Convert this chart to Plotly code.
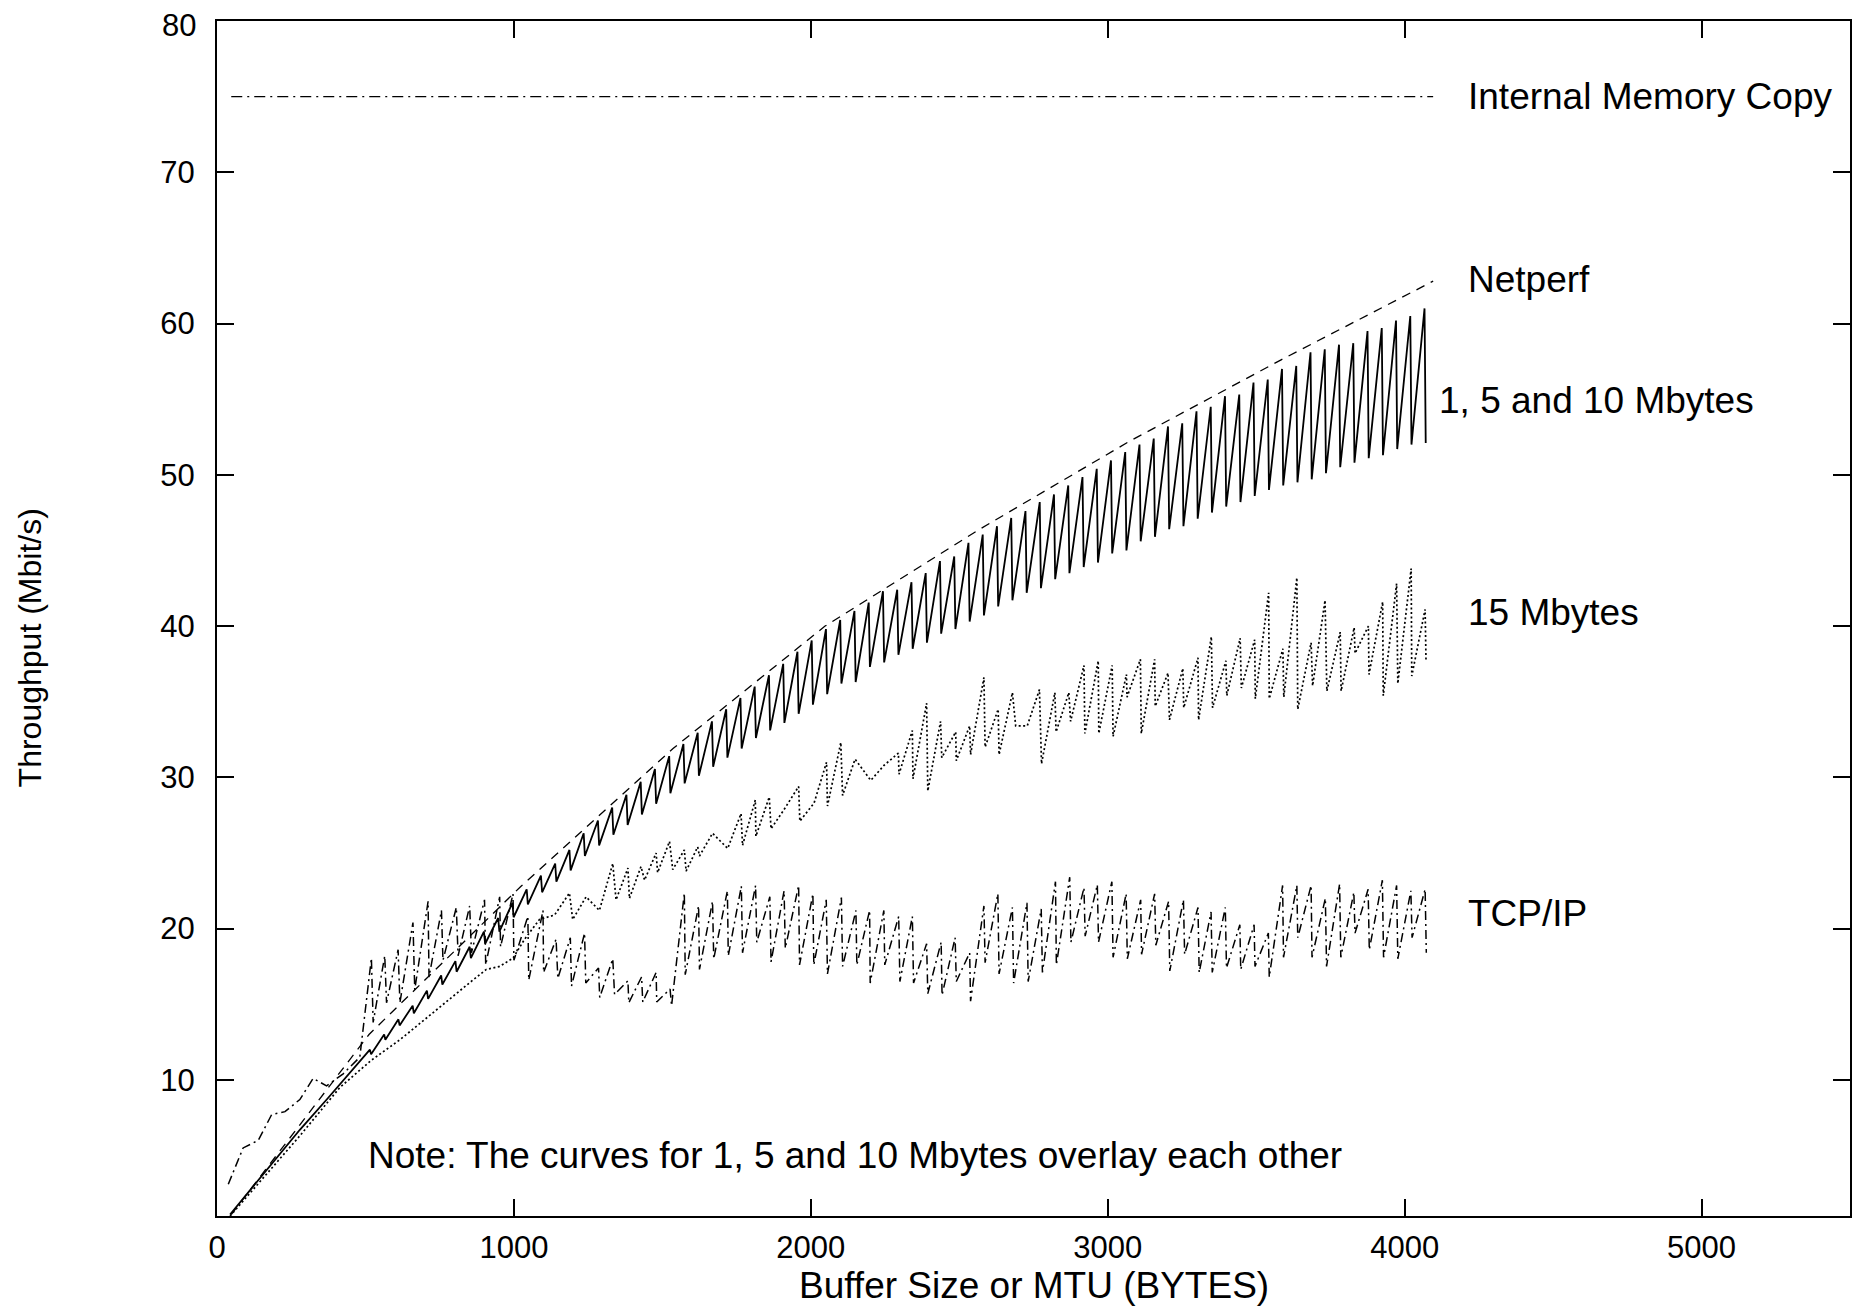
import plotly.graph_objects as go

# ---------------- data ----------------
# Internal memory copy (flat reference line)
memcopy_x = [48, 4096]
memcopy_y = [75.0, 75.0]

# Netperf (dashed envelope)
netperf_x = [48, 512, 1024, 1536, 2048, 2560, 3072, 3584, 4096]
netperf_y = [1.1, 13.0, 22.8, 31.9, 40.0, 46.3, 52.2, 57.6, 62.8]

# 1, 5 and 10 Mbytes (solid sawtooth): smooth start, then tooth peaks / troughs
mb_start_x = [44, 279, 374, 473]
mb_start_y = [1.1, 6.7, 8.8, 11.0]
mb_peak_x = [515, 563, 611, 659, 707, 755, 803, 851, 899, 947, 995, 1043, 1091, 1139, 1187,
             1235, 1283, 1331, 1379, 1427, 1475, 1523, 1571, 1619, 1667, 1715, 1763, 1811, 1859,
             1907, 1955, 2003, 2051, 2099, 2147, 2195, 2243, 2291, 2339, 2387, 2435, 2483, 2531,
             2579, 2627, 2675, 2723, 2771, 2819, 2867, 2915, 2963, 3011, 3059, 3107, 3155, 3203,
             3251, 3299, 3347, 3395, 3443, 3491, 3539, 3587, 3635, 3683, 3731, 3779, 3827, 3875,
             3923, 3971, 4019, 4067]
mb_peak_y = [12.0, 13.0, 14.0, 14.9, 15.9, 16.9, 17.85, 18.8, 19.8, 20.7, 21.7, 22.6, 23.5, 24.3, 25.2,
             26.3, 27.15, 28.0, 28.85, 29.7, 30.55, 31.4, 32.2, 32.95, 33.7, 34.5, 35.25, 36.0, 36.75,
             37.5, 38.3, 39.05, 39.8, 40.4, 41.0, 41.55, 42.3, 42.4, 42.9, 43.5, 44.3, 44.6, 45.5,
             46.05, 46.6, 47.15, 47.6, 48.2, 48.7, 49.3, 49.85, 50.4, 50.95, 51.5, 52.0, 52.4, 53.2,
             53.4, 54.2, 54.5, 55.2, 55.3, 56.1, 56.3, 57.0, 57.2, 58.1, 58.3, 58.6, 58.7, 59.5,
             59.7, 60.2, 60.5, 61.0]
mb_trough_x = [519, 567, 615, 663, 711, 759, 807, 855, 903, 951, 999, 1047, 1095, 1143, 1191,
               1239, 1287, 1335, 1383, 1431, 1479, 1527, 1575, 1623, 1671, 1719, 1767, 1815, 1863,
               1911, 1959, 2007, 2055, 2103, 2151, 2199, 2247, 2295, 2343, 2391, 2439, 2487, 2535,
               2583, 2631, 2679, 2727, 2775, 2823, 2871, 2919, 2967, 3015, 3063, 3111, 3159, 3207,
               3255, 3303, 3351, 3399, 3447, 3495, 3543, 3591, 3639, 3687, 3735, 3783, 3831, 3879,
               3927, 3975, 4023, 4071]
mb_trough_y = [11.7, 12.65, 13.6, 14.4, 15.35, 16.3, 17.15, 18.05, 19.0, 19.8, 20.75, 21.6, 22.4, 23.1, 23.85,
               24.8, 25.5, 26.2, 26.85, 27.55, 28.25, 28.95, 29.6, 30.1, 30.7, 31.3, 31.9, 32.6, 33.1,
               33.6, 34.2, 34.8, 35.5, 36.2, 36.3, 37.3, 37.6, 38.1, 38.5, 38.9, 39.5, 39.8, 40.3,
               40.7, 41.3, 41.7, 42.2, 42.5, 43.1, 43.5, 43.9, 44.2, 44.8, 45.0, 45.6, 45.9, 46.4,
               46.6, 47.1, 47.5, 47.9, 48.2, 48.6, 49.0, 49.3, 49.5, 49.7, 50.1, 50.5, 50.8, 51.1,
               51.3, 51.7, 52.0, 52.1]

# 15 Mbytes (dotted)
mb15_x = [44, 279, 414, 520, 616, 761, 862, 907, 952, 997, 1036, 1086, 1137, 1187, 1198, 1243, 1288,
          1333, 1344, 1384, 1389, 1428, 1440, 1479, 1484, 1524, 1535, 1574, 1580, 1619, 1625, 1669,
          1720, 1765, 1770, 1813, 1815, 1860, 1866, 1911, 1959, 1963, 2011, 2053, 2056, 2101, 2107,
          2149, 2202, 2247, 2295, 2297, 2342, 2344, 2390, 2394, 2437, 2441, 2488, 2490, 2535, 2538,
          2583, 2587, 2631, 2634, 2679, 2690, 2729, 2770, 2777, 2822, 2826, 2869, 2875, 2920, 2923,
          2968, 2970, 3015, 3018, 3063, 3065, 3110, 3113, 3158, 3160, 3203, 3208, 3253, 3256, 3304,
          3306, 3349, 3353, 3398, 3401, 3446, 3450, 3495, 3497, 3542, 3544, 3590, 3593, 3637, 3640,
          3685, 3690, 3732, 3738, 3783, 3786, 3830, 3833, 3878, 3880, 3926, 3928, 3973, 3977, 4022,
          4024, 4069, 4072]
mb15_y = [1.0, 6.3, 9.5, 11.3, 12.65, 15.0, 16.6, 17.3, 17.5, 18.05, 19.3, 20.6, 20.9, 22.35, 20.6, 22.1, 21.2,
          24.3, 21.9, 24.0, 22.0, 24.1, 23.2, 25.0, 23.7, 25.76, 23.9, 25.2, 23.8, 25.4, 24.8, 26.3,
          25.3, 27.6, 25.5, 28.5, 26.1, 28.7, 26.6, 27.9, 29.4, 27.1, 28.3, 31.0, 28.1, 32.3, 28.8,
          31.2, 29.8, 30.8, 31.6, 30.2, 33.1, 29.9, 34.9, 29.1, 33.7, 31.3, 33.0, 31.1, 33.4, 31.5,
          36.6, 32.0, 34.5, 31.5, 35.6, 33.4, 33.4, 35.8, 30.9, 35.6, 33.0, 35.6, 33.7, 37.4, 32.9,
          37.7, 32.9, 37.4, 32.7, 36.8, 35.3, 37.8, 32.9, 37.8, 34.7, 36.9, 33.8, 37.2, 34.6, 37.9,
          33.8, 39.3, 34.6, 37.7, 35.4, 39.2, 35.9, 39.1, 35.2, 42.2, 35.2, 38.5, 35.3, 43.2, 34.5,
          38.9, 36.05, 41.7, 35.7, 39.6, 35.7, 39.9, 38.2, 40.0, 36.8, 41.6, 35.4, 42.8, 36.2, 43.8,
          36.7, 41.1, 37.7]

# TCP/IP (dash-dot)
tcp_x = [38, 88, 139, 184, 229, 279, 324, 369, 425, 481, 520, 526, 565, 571, 610, 616, 660, 666,
         711, 714, 756, 761, 806, 812, 851, 857, 901, 905, 952, 955, 997, 1000, 1047, 1050, 1098, 1100,
         1142, 1148, 1190, 1194, 1238, 1242, 1285, 1289, 1333, 1339, 1384, 1387, 1430, 1434, 1479, 1481,
         1526, 1531, 1574, 1577, 1622, 1625, 1669, 1673, 1719, 1722, 1766, 1770, 1814, 1818, 1862, 1866,
         1910, 1914, 1959, 1962, 2007, 2010, 2052, 2056, 2103, 2107, 2152, 2155, 2198, 2200, 2246, 2249,
         2296, 2300, 2342, 2346, 2390, 2394, 2439, 2442, 2486, 2490, 2535, 2538, 2583, 2587, 2630, 2634,
         2679, 2683, 2728, 2732, 2776, 2780, 2824, 2827, 2872, 2876, 2920, 2924, 2965, 2969, 3014, 3018,
         3062, 3066, 3111, 3114, 3158, 3162, 3205, 3209, 3255, 3259, 3304, 3308, 3348, 3352, 3396, 3400,
         3445, 3448, 3493, 3496, 3541, 3544, 3589, 3592, 3637, 3640, 3685, 3688, 3733, 3737, 3781, 3785,
         3829, 3833, 3877, 3881, 3925, 3929, 3973, 3977, 4021, 4025, 4069, 4073]
tcp_y = [3.1, 5.5, 6.0, 7.7, 7.9, 8.7, 10.1, 9.6, 10.4, 11.5, 18.05, 13.8, 18.2, 15.1, 18.6, 15.1, 20.4, 15.96,
         21.8, 16.8, 21.2, 17.9, 21.4, 18.2, 21.5, 18.4, 21.9, 17.6, 22.1, 18.8, 22.3, 17.9, 20.8, 16.6, 21.2, 17.1,
         19.3, 16.7, 19.4, 16.2, 19.7, 16.4, 17.4, 15.45, 18.0, 15.65, 16.55, 15.1, 16.8, 15.15, 17.1, 15.15,
         16.0, 14.9, 22.35, 16.95, 21.5, 17.3, 21.8, 18.0, 22.5, 18.2, 22.8, 18.4, 22.85, 19.1, 22.1, 17.8,
         22.5, 18.7, 22.85, 17.6, 22.3, 17.6, 21.9, 17.0, 22.05, 17.5, 21.2, 17.6, 21.2, 16.4, 21.2, 17.6,
         20.8, 16.5, 20.8, 16.4, 19.0, 15.7, 19.1, 15.6, 19.4, 16.5, 18.4, 15.2, 21.5, 17.75, 22.3, 17.0,
         21.4, 16.4, 21.7, 16.5, 21.3, 17.1, 23.1, 17.6, 23.4, 19.1, 22.7, 19.5, 22.9, 19.1, 23.1, 18.1,
         22.3, 18.0, 21.9, 18.3, 22.3, 18.9, 21.8, 17.2, 21.9, 18.3, 21.4, 17.1, 21.1, 17.1, 21.4, 17.4,
         20.25, 17.3, 20.25, 17.5, 19.7, 16.8, 22.85, 18.1, 22.85, 19.4, 22.85, 18.1, 22.0, 17.5, 22.95, 18.1,
         22.4, 19.7, 22.6, 18.6, 23.2, 18.1, 22.85, 18.0, 22.5, 19.4, 22.6, 18.4]

x_tickvals = [0, 1000, 2000, 3000, 4000, 5000]
y_tickvals = [10, 20, 30, 40, 50, 60, 70, 80]
y_ticktext = ["10", "20", "30", "40", "50", "60", "70", ""]   # "80" drawn as annotation (kept on-page)
y_top_label = "80"

# curve labels: (text, x, y)
label_text = ["Internal Memory Copy", "Netperf", "1, 5 and 10 Mbytes", "15 Mbytes", "TCP/IP",
              "Note: The curves for 1, 5 and 10 Mbytes overlay each other"]
label_x = [4205, 4205, 4110, 4205, 4205, 503]
label_y = [75.0, 62.9, 54.9, 40.9, 21.0, 5.0]

# ---------------- figure ----------------
FONT = "Liberation Sans, Arial, Helvetica, sans-serif"

# assemble sawtooth from start segment + interleaved peak/trough
mb_x = list(mb_start_x)
mb_y = list(mb_start_y)
for px, py, tx, ty in zip(mb_peak_x, mb_peak_y, mb_trough_x, mb_trough_y):
    mb_x += [px, tx]
    mb_y += [py, ty]

fig = go.Figure()
fig.add_trace(go.Scatter(x=memcopy_x, y=memcopy_y, mode="lines", name="Internal Memory Copy",
                         line=dict(color="black", width=1.3, dash="11px,5px,2px,5px")))
fig.add_trace(go.Scatter(x=netperf_x, y=netperf_y, mode="lines", name="Netperf",
                         line=dict(color="black", width=1.3, dash="9px,7px")))
fig.add_trace(go.Scatter(x=mb_x, y=mb_y, mode="lines", name="1, 5 and 10 Mbytes",
                         line=dict(color="black", width=1.8)))
fig.add_trace(go.Scatter(x=mb15_x, y=mb15_y, mode="lines", name="15 Mbytes",
                         line=dict(color="black", width=1.7, dash="2px,2.5px")))
fig.add_trace(go.Scatter(x=tcp_x, y=tcp_y, mode="lines", name="TCP/IP",
                         line=dict(color="black", width=1.5, dash="9px,4px,2px,4px")))

for t, lx, ly in zip(label_text, label_x, label_y):
    fig.add_annotation(x=lx, y=ly, xref="x", yref="y", text=t, showarrow=False,
                       xanchor="left", yanchor="middle",
                       font=dict(family=FONT, size=37, color="black"))

# top y tick label, nudged down slightly so it stays inside the page
fig.add_annotation(x=0, y=y_tickvals[-1], xref="paper", yref="y", text=y_top_label, showarrow=False,
                   xanchor="right", yanchor="middle", xshift=-19, yshift=-4,
                   font=dict(family=FONT, size=31, color="black"))

# axis titles
fig.add_annotation(x=0.5, y=-0.058, xref="paper", yref="paper", text="Buffer Size or MTU (BYTES)",
                   showarrow=False, xanchor="center", yanchor="middle",
                   font=dict(family=FONT, size=37, color="black"))
fig.add_annotation(x=-0.1145, y=0.475, xref="paper", yref="paper", text="Throughput (Mbit/s)",
                   showarrow=False, textangle=-90, xanchor="center", yanchor="middle",
                   font=dict(family=FONT, size=32, color="black"))

axis_common = dict(showgrid=False, zeroline=False, showline=True, linecolor="black", linewidth=2,
                   mirror="ticks", ticks="inside", ticklen=17, tickwidth=1.6, tickcolor="black",
                   automargin=False, ticklabeloverflow="allow",
                   tickfont=dict(family=FONT, size=31, color="black"))

# the page body adds an 8px offset, so the figure is 16px smaller and margins shifted by 8px
fig.update_layout(
    width=1844, height=1298,
    margin=dict(l=209, r=2, t=13, b=90, autoexpand=False),
    paper_bgcolor="white", plot_bgcolor="white",
    showlegend=False,
    xaxis=dict(range=[0, 5500], tickvals=x_tickvals, ticklabelstandoff=3, **axis_common),
    yaxis=dict(range=[1, 80], tickvals=y_tickvals, ticktext=y_ticktext, ticklabelstandoff=14,
               **axis_common),
)

fig.write_html("out.html")
